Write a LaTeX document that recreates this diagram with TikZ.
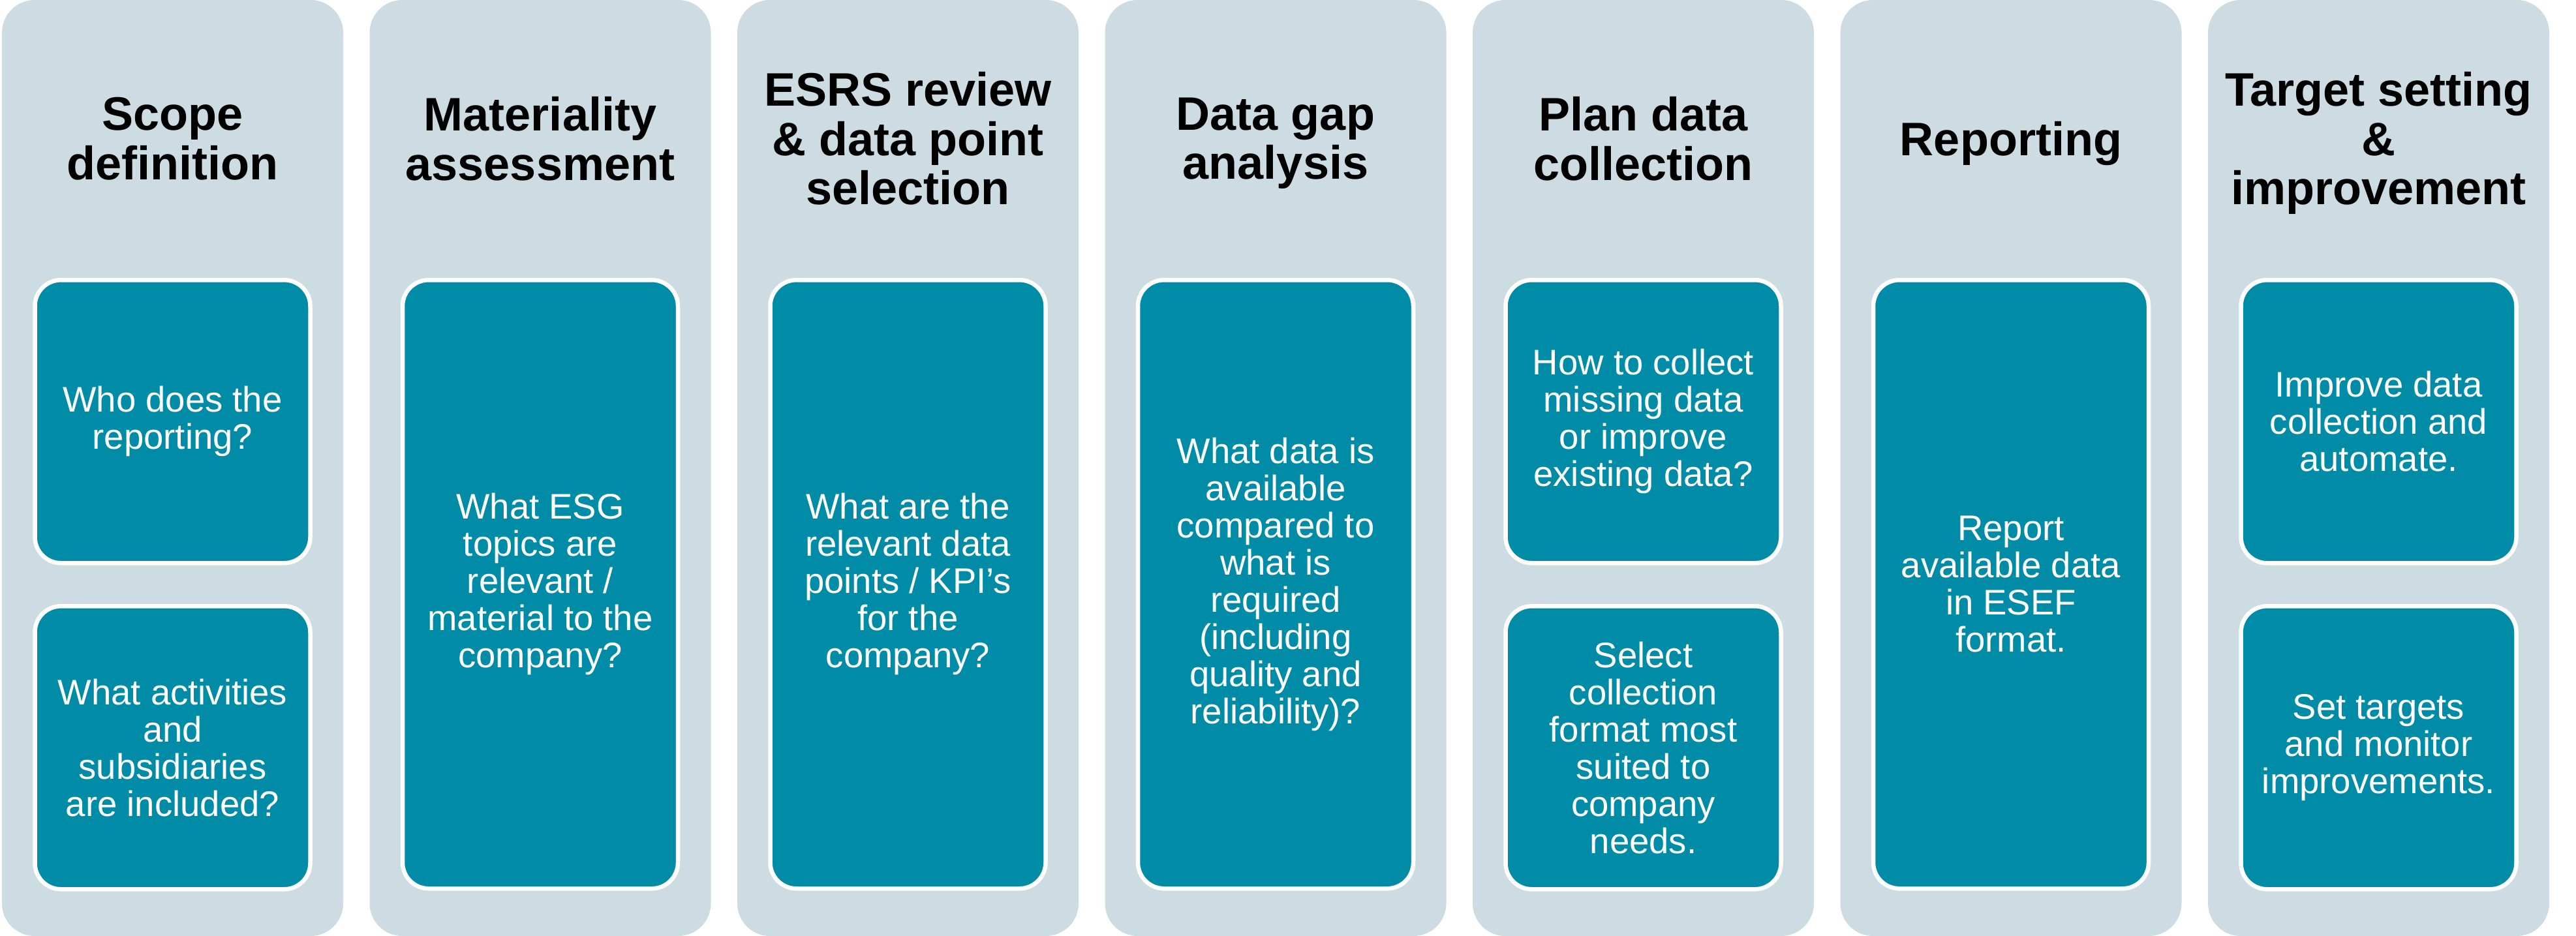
\documentclass[tikz,border=0pt]{standalone}
\usepackage{fontspec}
\setmainfont{Liberation Sans}
\usepackage{xcolor}
\usetikzlibrary{positioning}
\definecolor{panelgray}{RGB}{205,219,226}
\definecolor{stepteal}{RGB}{0,140,166}

\begin{document}
\begin{tikzpicture}[
          panel/.style={
              fill=panelgray,
              rounded corners=0.5cm,
              minimum width=5.23cm,
              minimum height=14.35cm,
              inner sep=0pt
            },title/.style={
              font=\fontsize{20.5}{21.5}\selectfont\bfseries,
              text depth=0pt,
              align=center
            },card/.style={
              fill=stepteal,
              draw=white,
              line width=0.065cm,
              rounded corners=0.4cm,
              minimum width=4.22cm,
              minimum height=#1,
              outer sep=0pt,
              text=white,
              font=\fontsize{15.5}{16.2}\selectfont,
              align=center
            },card/.default=4.34cm
        ]
        \useasboundingbox (0,0) rectangle (39.48,14.35);

        % 背景の縦パネル
        \node[panel] (scope) at (2.645,7.175) {};
        \node[panel] (materiality) at (8.28,7.175) {};
        \node[panel] (esrs) at (13.915,7.175) {};
        \node[panel] (gap) at (19.55,7.175) {};
        \node[panel] (plan) at (25.185,7.175) {};
        \node[panel] (reporting) at (30.82,7.175) {};
        \node[panel] (target) at (36.455,7.175) {};

        % 見出し
        \node[title] (scope title) at ([yshift=-2.13cm]scope.north) {Scope\\definition};
        \node[title] (materiality title) at ([yshift=-2.13cm]materiality.north) {Materiality\\assessment};
        \node[title] (esrs title) at ([yshift=-2.13cm]esrs.north) {ESRS review\\\& data point\\selection};
        \node[title] (gap title) at ([yshift=-2.13cm]gap.north) {Data gap\\analysis};
        \node[title] (plan title) at ([yshift=-2.13cm]plan.north) {Plan data\\collection};
        \node[title] (reporting title) at ([yshift=-2.13cm]reporting.north) {Reporting};
        \node[title] (target title) at ([yshift=-2.13cm]target.north) {Target setting\\\&\\improvement};

        % 上下二段のカード
        \node[card] (scope who) at ([yshift=-6.47cm]scope.north) {Who does the\\reporting?};
        \node[card, below=0.66cm of scope who] (scope what) {What activities\\and\\subsidiaries\\are included?};
        \node[card] (plan how) at ([yshift=-6.47cm]plan.north) {How to collect\\missing data\\or improve\\existing data?};
        \node[card, below=0.66cm of plan how] (plan select) {Select\\collection\\format most\\suited to\\company\\needs.};
        \node[card] (target improve) at ([yshift=-6.47cm]target.north) {Improve data\\collection and\\automate.};
        \node[card, below=0.66cm of target improve] (target set) {Set targets\\and monitor\\improvements.};

        % 縦長のカード
        \node[card=9.33cm] (materiality topics) at ([yshift=-8.965cm]materiality.north) {What ESG\\topics are\\relevant /\\material to the\\company?};
        \node[card=9.33cm] (esrs points) at ([yshift=-8.965cm]esrs.north) {What are the\\relevant data\\points / KPI’s\\for the\\company?};
        \node[card=9.33cm] (gap available) at ([yshift=-8.965cm]gap.north) {What data is\\available\\compared to\\what is\\required\\(including\\quality and\\reliability)?};
        \node[card=9.33cm] (reporting esef) at ([yshift=-8.965cm]reporting.north) {Report\\available data\\in ESEF\\format.};

      \end{tikzpicture}
\end{document}
